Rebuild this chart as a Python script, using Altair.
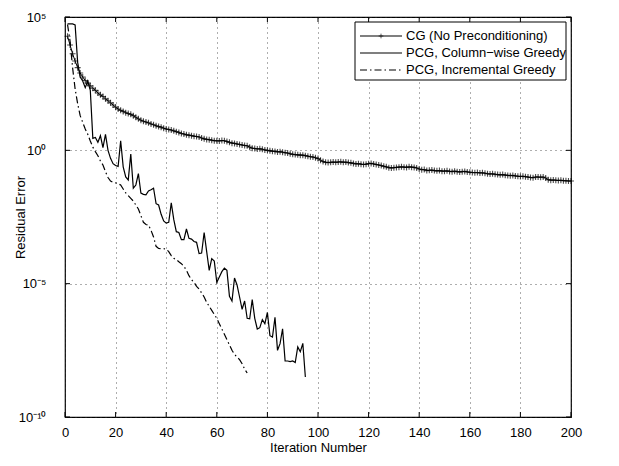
import altair as alt
import pandas as pd

# ---------------- data (log10 of residual error) ----------------
cg_log = [
    4.28, 3.95, 3.62, 3.35, 3.10, 2.90, 2.75, 2.62, 2.52, 2.42,
    2.33, 2.25, 2.15, 2.08, 2.02, 1.93, 1.86, 1.78, 1.70, 1.62,
    1.55, 1.50, 1.46, 1.41, 1.38, 1.35, 1.30, 1.24, 1.18, 1.13,
    1.09, 1.06, 1.03, 0.99, 0.96, 0.92, 0.89, 0.87, 0.83, 0.80,
    0.78, 0.76, 0.73, 0.70, 0.67, 0.63, 0.61, 0.58, 0.57, 0.55,
    0.53, 0.52, 0.50, 0.46, 0.43, 0.41, 0.40, 0.38, 0.36, 0.36,
    0.35, 0.37, 0.36, 0.33, 0.30, 0.27, 0.26, 0.24, 0.22, 0.20,
    0.18, 0.17, 0.12, 0.08, 0.07, 0.05, 0.06, 0.04, 0.01, 0.00,
    -0.02, -0.03, -0.04, -0.06, -0.05, -0.07, -0.09, -0.10, -0.13, -0.15,
    -0.16, -0.17, -0.18, -0.18, -0.20, -0.22, -0.24, -0.25, -0.28, -0.31,
    -0.37, -0.42, -0.45, -0.46, -0.45, -0.44, -0.45, -0.44, -0.43, -0.45,
    -0.44, -0.46, -0.47, -0.49, -0.51, -0.50, -0.52, -0.53, -0.52, -0.50,
    -0.49, -0.51, -0.53, -0.55, -0.57, -0.60, -0.62, -0.65, -0.66, -0.65,
    -0.64, -0.63, -0.62, -0.63, -0.64, -0.62, -0.63, -0.64, -0.66, -0.70,
    -0.73, -0.72, -0.76, -0.75, -0.74, -0.76, -0.77, -0.76, -0.78, -0.78,
    -0.77, -0.79, -0.80, -0.78, -0.80, -0.81, -0.80, -0.79, -0.81, -0.82,
    -0.83, -0.84, -0.83, -0.85, -0.84, -0.86, -0.88, -0.89, -0.88, -0.90,
    -0.91, -0.92, -0.91, -0.93, -0.94, -0.95, -0.94, -0.96, -0.97, -0.98,
    -0.97, -0.99, -1.00, -1.02, -1.03, -1.00, -1.00, -1.01, -1.00, -1.04,
    -1.10, -1.12, -1.11, -1.12, -1.13, -1.12, -1.14, -1.14, -1.15, -1.15,
]

pcg_col_log = [
    4.74, 4.74, 4.74, 4.70, 3.30, 2.75, 2.60, 2.35, 2.60, 2.25,
    0.45, 0.48, 0.30, 0.55, 0.10, 0.60, 0.00, -0.30, -0.50, -0.57,
    -0.60, 0.36, -0.62, -1.00, -1.11, -0.14, -1.42, -1.30, -0.87, -1.60,
    -1.65, -1.67, -1.52, -1.48, -1.42, -2.00, -2.05, -2.40, -2.65, -2.73,
    -2.70, -1.97, -2.60, -3.05, -3.08, -3.35, -3.35, -2.95, -3.30, -3.33,
    -3.42, -3.45, -3.87, -3.85, -3.08, -3.80, -4.50, -4.06, -4.15, -4.95,
    -4.75, -4.55, -4.42, -4.50, -5.47, -5.65, -4.79, -5.05, -5.50, -5.96,
    -5.65, -6.30, -6.32, -5.60, -6.30, -6.70, -6.65, -6.35, -6.50, -6.08,
    -6.95, -7.00, -6.26, -7.50, -7.25, -6.69, -7.90, -7.90, -7.92, -7.90,
    -7.96, -7.37, -7.55, -7.24, -8.50,
]

pcg_inc_log = [
    4.72, 4.10, 3.10, 2.30, 1.75, 1.30, 1.05, 0.80, 0.60, 0.35,
    0.12, -0.05, -0.20, -0.40, -0.55, -0.80, -1.02, -1.15, -1.20, -1.22,
    -1.25, -1.30, -1.45, -1.60, -1.70, -1.80, -1.90, -2.05, -2.20, -2.45,
    -2.70, -2.78, -2.80, -3.00, -3.25, -3.60, -3.68, -3.69, -3.69, -3.70,
    -3.80, -3.95, -4.05, -4.10, -4.18, -4.25, -4.35, -4.50, -4.70, -4.85,
    -4.95, -5.10, -5.20, -5.35, -5.50, -5.70, -5.85, -6.00, -6.15, -6.30,
    -6.50, -6.70, -6.90, -7.10, -7.30, -7.50, -7.65, -7.75, -7.85, -8.00,
    -8.20, -8.35,
]

series_names = [
    "CG (No Preconditioning)",
    "PCG, Column\u2212wise Greedy",
    "PCG, Incremental Greedy",
]
x_ticks = [0, 20, 40, 60, 80, 100, 120, 140, 160, 180, 200]
y_ticks = [1e-10, 1e-5, 1e0, 1e5]

# ---------------- tables ----------------
def frame(logs):
    return pd.DataFrame({"iter": list(range(1, len(logs) + 1)),
                         "err": [10.0 ** v for v in logs]})

cg_df = frame(cg_log)
col_df = frame(pcg_col_log)
inc_df = frame(pcg_inc_log)
xt_df = pd.DataFrame({"iter": x_ticks})
yt_df = pd.DataFrame({"err": y_ticks})
one = pd.DataFrame({"k": [0]})

W, H = 506, 400
FONT = "Liberation Sans"
FS = 13
PLUS = "M-1,0L1,0M0,-1L0,1"

xs = alt.Scale(domain=[0, 200], nice=False, zero=False)
ys = alt.Scale(type="log", domain=[1e-10, 1e5], nice=False)

x_axis = alt.Axis(values=x_ticks, grid=True, gridDash=[1, 4], gridColor="#333",
                  gridWidth=0.8, ticks=False, domain=False, labelFont=FONT,
                  labelFontSize=FS, labelPadding=9, labelColor="black",
                  labelFlush=False,
                  title="Iteration Number", titleFont=FONT, titleFontSize=FS,
                  titleFontWeight="normal", titleColor="black", titlePadding=2)
y_axis = alt.Axis(values=y_ticks, grid=True, gridDash=[1, 4], gridColor="#333",
                  gridWidth=0.8, ticks=False, domain=False, labelFont=FONT,
                  labelFontSize=FS, labelPadding=19, labelColor="black",
                  labelFlush=False,
                  labelExpr="datum.value > 1000 ? '10\u2075' : datum.value > 0.5 ? '10\u2070' : datum.value > 1e-6 ? '10\u207b\u2075' : '10\u207b\u00b9\u2070'",
                  title="Residual Error", titleFont=FONT, titleFontSize=FS,
                  titleFontWeight="normal", titleColor="black",
                  titleX=-45, titleY=H / 2, titleBaseline="middle")

X = alt.X("iter:Q", scale=xs, axis=x_axis)
Y = alt.Y("err:Q", scale=ys, axis=y_axis)

cg_line = alt.Chart(cg_df).mark_line(strokeWidth=1, color="black").encode(x=X, y=Y)
cg_pts = alt.Chart(cg_df).mark_point(shape=PLUS, size=36, filled=False,
                                     strokeWidth=1.1, color="black").encode(x=X, y=Y)
col_line = alt.Chart(col_df).mark_line(strokeWidth=1.2, color="black").encode(x=X, y=Y)
inc_line = alt.Chart(inc_df).mark_line(strokeWidth=1.2, color="black",
                                       strokeDash=[7, 3, 1.5, 3]).encode(x=X, y=Y)

# inward ticks (box style)
tb = alt.Chart(xt_df).mark_rule(color="black", strokeWidth=1).encode(
    x=X, y=alt.value(H), y2=alt.value(H - 5))
tt = alt.Chart(xt_df).mark_rule(color="black", strokeWidth=1).encode(
    x=X, y=alt.value(0), y2=alt.value(5))
tl = alt.Chart(yt_df).mark_rule(color="black", strokeWidth=1).encode(
    y=Y, x=alt.value(0), x2=alt.value(5))
tr = alt.Chart(yt_df).mark_rule(color="black", strokeWidth=1).encode(
    y=Y, x=alt.value(W), x2=alt.value(W - 5))

# legend (drawn by hand, MATLAB style)
LX0, LX1, LY0, LY1 = 290, 501, 5, 63
rows = [19, 36, 53]
lx_a, lx_b, ltx = 295, 337, 341
leg_box = alt.Chart(one).mark_rect(fill="white", stroke="black", strokeWidth=1).encode(
    x=alt.value(LX0), x2=alt.value(LX1), y=alt.value(LY0), y2=alt.value(LY1))
leg_layers = [leg_box]
dashes = [None, None, [7, 3, 1.5, 3]]
for i, name in enumerate(series_names):
    kw = dict(color="black", strokeWidth=1.1)
    if dashes[i]:
        kw["strokeDash"] = dashes[i]
    leg_layers.append(alt.Chart(one).mark_rule(**kw).encode(
        x=alt.value(lx_a), x2=alt.value(lx_b), y=alt.value(rows[i])))
    leg_layers.append(alt.Chart(one).mark_text(
        align="left", baseline="middle", font=FONT, fontSize=FS, color="black").encode(
        x=alt.value(ltx), y=alt.value(rows[i]), text=alt.value(name)))
leg_layers.append(alt.Chart(one).mark_point(shape=PLUS, size=22, filled=False,
                                            strokeWidth=0.9, color="black").encode(
    x=alt.value((lx_a + lx_b) / 2), y=alt.value(rows[0])))

chart = alt.layer(cg_line, cg_pts, col_line, inc_line, tb, tt, tl, tr,
                  *leg_layers).properties(
    width=W, height=H,
    autosize=alt.AutoSizeParams(type="none"),
    padding={"left": 57, "top": 9, "right": 30, "bottom": 40},
    background="white",
).configure_view(stroke="black", strokeWidth=1.2)

chart.save("out.html", embed_options={"renderer": "svg", "actions": False})
